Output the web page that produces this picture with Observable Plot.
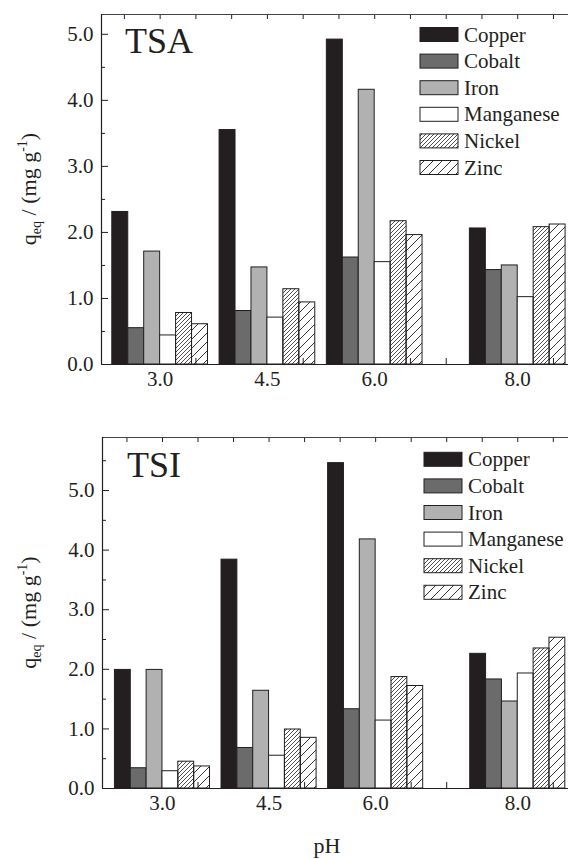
<!DOCTYPE html>
<html><head><meta charset="utf-8">
<script src="https://cdn.jsdelivr.net/npm/d3@7"></script>
<script src="https://cdn.jsdelivr.net/npm/@observablehq/plot@0.6"></script>
<style>
body{margin:0;background:#fff;}
#chart > svg{display:block}
#chart svg text{font-family:"Liberation Serif","Times New Roman",serif !important;}
</style>
</head><body>
<svg width="0" height="0" style="position:absolute">
<defs>
<pattern id="hatchNi" patternUnits="userSpaceOnUse" width="4" height="4">
<path d="M-1,1 l2,-2 M0,4 l4,-4 M3,5 l2,-2" stroke="#231f20" stroke-width="0.8"/>
</pattern>
<pattern id="hatchZn" patternUnits="userSpaceOnUse" width="9" height="9">
<path d="M-1,1 l2,-2 M0,9 l9,-9 M8,10 l2,-2" stroke="#231f20" stroke-width="0.9"/>
</pattern>
</defs>
</svg>
<div id="chart"></div>
<script>
const metals = ["Copper", "Cobalt", "Iron", "Manganese", "Nickel", "Zinc"];
const metalFills = ["#231f20", "#6b6b6b", "#b1b1b1", "#ffffff", "url(#hatchNi)", "url(#hatchZn)"];
const pHs = [3.0, 4.5, 6.0, 8.0];
const yTicks = [0, 1, 2, 3, 4, 5];

// TSA
const tsaCopper    = [2.31, 3.55, 4.92, 2.06];
const tsaCobalt    = [0.55, 0.81, 1.62, 1.43];
const tsaIron      = [1.71, 1.47, 4.16, 1.50];
const tsaManganese = [0.44, 0.71, 1.55, 1.02];
const tsaNickel    = [0.78, 1.14, 2.17, 2.08];
const tsaZinc      = [0.61, 0.94, 1.96, 2.12];

// TSI
const tsiCopper    = [1.99, 3.84, 5.46, 2.26];
const tsiCobalt    = [0.34, 0.68, 1.33, 1.83];
const tsiIron      = [1.99, 1.64, 4.18, 1.46];
const tsiManganese = [0.29, 0.55, 1.14, 1.93];
const tsiNickel    = [0.45, 0.99, 1.87, 2.35];
const tsiZinc      = [0.37, 0.85, 1.72, 2.53];

const FONT = '"Liberation Serif", "Times New Roman", serif';
const INK = "#231f20";
const bw = 0.223;

function panel(o) {
  const rows = pHs.flatMap((p, j) => metals.map((m, i) => ({pH: p, metal: m, i, value: o.series[i][j]})));
  const halves = d3.range(2.5, 8.51, 0.5);
  const yMinor = d3.range(0.5, o.yMax, 1);
  const plot = Plot.plot({
    width: 568,
    height: o.height,
    marginTop: o.marginTop,
    marginBottom: o.marginBottom,
    marginLeft: o.marginLeft,
    marginRight: 0,
    style: {fontFamily: FONT, fontSize: "21px", color: INK, background: "white"},
    x: {type: "linear", domain: o.xDomain, axis: null},
    y: {domain: [0, o.yMax], axis: null},
    color: {type: "ordinal", domain: metals, range: metalFills},
    marks: [
      Plot.axisX({anchor: "bottom", ticks: halves, tickSize: -6, fill: "none", label: null, stroke: INK}),
      Plot.rect(rows, {x1: d => d.pH + (d.i - 3) * bw, x2: d => d.pH + (d.i - 2) * bw, y1: 0, y2: "value", fill: "metal", stroke: INK, strokeWidth: 1}),
      Plot.axisX({anchor: "top", ticks: halves, tickSize: -4, fill: "none", label: null, stroke: INK}),
      Plot.axisY({anchor: "left", ticks: yTicks, tickSize: -7, fill: "none", label: null, stroke: INK}),
      Plot.axisY({anchor: "left", ticks: yMinor, tickSize: -4, fill: "none", label: null, stroke: INK}),
      Plot.axisX({anchor: "bottom", ticks: pHs, tickSize: 0, tickPadding: 7, tickFormat: d3.format(".1f"), label: null, fontSize: 21, fill: INK}),
      Plot.axisY({anchor: "left", ticks: yTicks, tickSize: 0, tickPadding: 8, tickFormat: d3.format(".1f"), label: null, fontSize: 21, fill: INK}),
      Plot.ruleY([0], {stroke: INK, strokeWidth: 1.2}),
      Plot.ruleY([o.yMax], {stroke: "#444", strokeWidth: 1}),
      Plot.ruleX([o.xDomain[0]], {stroke: INK, strokeWidth: 1.2})
    ]
  });
  const svg = d3.select(plot);
  // title
  svg.append("text").attr("x", o.titleX).attr("y", o.titleY).attr("text-anchor", "start")
    .attr("font-size", 36).attr("fill", INK).text(o.title);
  // legend
  const lg = svg.append("g").attr("font-size", 21).attr("fill", INK).attr("text-anchor", "start");
  metals.forEach((m, i) => {
    const cy = o.legendY + i * 26.6;
    lg.append("rect").attr("x", o.legendX).attr("y", cy - 7).attr("width", 38).attr("height", 14)
      .attr("fill", metalFills[i]).attr("stroke", INK).attr("stroke-width", 1);
    lg.append("text").attr("x", o.legendX + 44).attr("y", cy + 7).text(m);
  });
  // y label
  const cy = (o.marginTop + o.height - o.marginBottom) / 2;
  const yl = svg.append("text").attr("transform", `translate(36,${cy}) rotate(-90)`)
    .attr("text-anchor", "middle").attr("font-size", 22).attr("fill", INK);
  yl.append("tspan").text("q");
  yl.append("tspan").attr("font-size", 14).attr("dy", 5).text("eq");
  yl.append("tspan").attr("dy", -5).text(" / (mg g");
  yl.append("tspan").attr("font-size", 14).attr("dy", -9).text("-1");
  yl.append("tspan").attr("dy", 9).text(")");
  if (o.xLabel) {
    svg.append("text").attr("x", 327).attr("y", o.height - 6).attr("text-anchor", "middle")
      .attr("font-size", 22).attr("fill", INK).text(o.xLabel);
  }
  return plot;
}

const chart = document.getElementById("chart");
chart.appendChild(panel({
  title: "TSA", titleX: 125, titleY: 53,
  series: [tsaCopper, tsaCobalt, tsaIron, tsaManganese, tsaNickel, tsaZinc],
  height: 400, marginTop: 14, marginBottom: 36, marginLeft: 101,
  xDomain: [2.18, 8.71], yMax: 5.30,
  legendX: 420, legendY: 34.5
}));
chart.appendChild(panel({
  title: "TSI", titleX: 127, titleY: 77,
  series: [tsiCopper, tsiCobalt, tsiIron, tsiManganese, tsiNickel, tsiZinc],
  height: 459, marginTop: 37, marginBottom: 71, marginLeft: 102,
  xDomain: [2.156, 8.714], yMax: 5.89,
  legendX: 424, legendY: 59.3, xLabel: "pH"
}));
</script>
</body></html>
